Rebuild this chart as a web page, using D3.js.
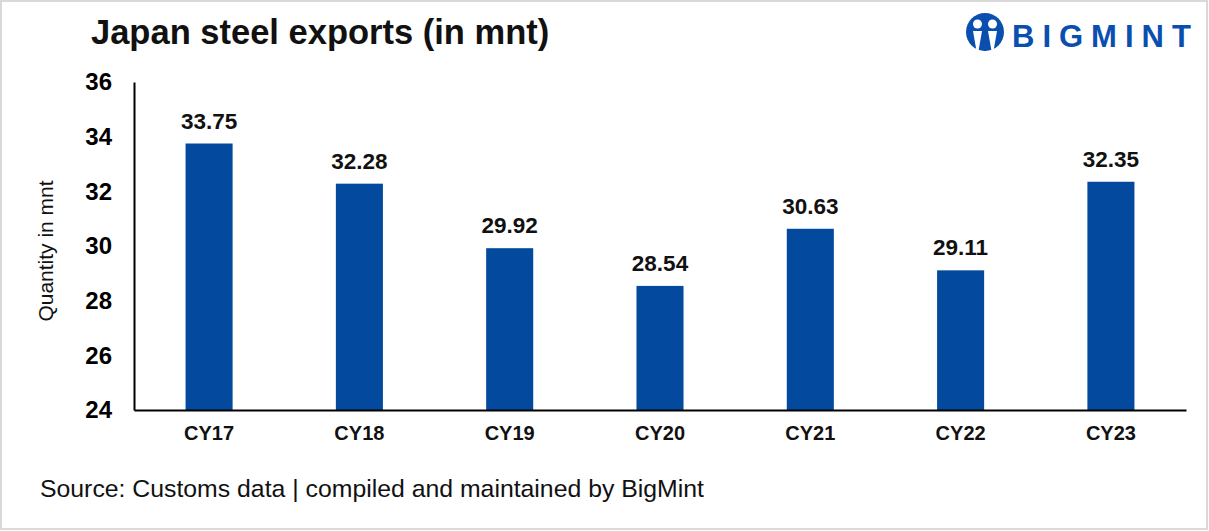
<!DOCTYPE html>
<html>
<head>
<meta charset="utf-8">
<script src="https://cdn.jsdelivr.net/npm/d3@7"></script>
<style>
  body { margin: 0; background: #fff; }
  text { font-family: "Liberation Sans", Arial, sans-serif; }
</style>
</head>
<body>
<svg id="chart"></svg>
<script>
// Chart data
const years = ['CY17', 'CY18', 'CY19', 'CY20', 'CY21', 'CY22', 'CY23'];
const exports = [33.75, 32.28, 29.92, 28.54, 30.63, 29.11, 32.35];
const yTicks = [24, 26, 28, 30, 32, 34, 36];

const W = 1209, H = 531;
const margin = { top: 82, right: 23, bottom: 121, left: 134 };
const width = W - margin.left - margin.right;
const height = H - margin.top - margin.bottom;

const svg = d3.select('#chart')
    .attr('width', W)
    .attr('height', H);

// outer frame
svg.append('rect')
    .attr('x', 1).attr('y', 1)
    .attr('width', W - 3).attr('height', H - 3)
    .attr('fill', '#fff')
    .attr('stroke', '#d9d9d9')
    .attr('stroke-width', 2);

const g = svg.append('g')
    .attr('transform', 'translate(' + margin.left + ',' + margin.top + ')');

const x = d3.scaleBand()
    .domain(years)
    .range([0, width])
    .paddingInner(0.687)
    .paddingOuter(0.343);

const y = d3.scaleLinear()
    .domain([24, 36])
    .range([height, 0]);

// bars
g.selectAll('.bar')
    .data(years)
  .enter().append('rect')
    .attr('class', 'bar')
    .attr('x', d => x(d))
    .attr('width', x.bandwidth())
    .attr('y', (d, i) => y(exports[i]))
    .attr('height', (d, i) => height - y(exports[i]))
    .attr('fill', '#034a9f');

// value labels
g.selectAll('.val')
    .data(years)
  .enter().append('text')
    .attr('class', 'val')
    .attr('x', d => x(d) + x.bandwidth() / 2)
    .attr('y', (d, i) => y(exports[i]) - 15)
    .attr('text-anchor', 'middle')
    .style('font-size', '22.5px')
    .style('font-weight', 'bold')
    .attr('fill', '#111')
    .text((d, i) => exports[i].toFixed(2));

// y axis
const yAxis = g.append('g')
    .call(d3.axisLeft(y).tickValues(yTicks).tickSize(0).tickPadding(22));
yAxis.select('.domain').attr('stroke', '#000').attr('stroke-width', 2);
yAxis.selectAll('text')
    .style('font-size', '24px')
    .style('font-weight', 'bold')
    .attr('fill', '#000');

// x axis
const xAxis = g.append('g')
    .attr('transform', 'translate(0,' + height + ')')
    .call(d3.axisBottom(x).tickSize(0).tickPadding(16));
xAxis.select('.domain').attr('stroke', '#000').attr('stroke-width', 2);
xAxis.selectAll('text')
    .style('font-size', '20px')
    .style('font-weight', 'bold')
    .attr('fill', '#111');

// y axis title
svg.append('text')
    .attr('transform', 'translate(53,251) rotate(-90)')
    .attr('text-anchor', 'middle')
    .style('font-size', '21px')
    .attr('fill', '#111')
    .text('Quantity in mnt');

// title
svg.append('text')
    .attr('x', 91)
    .attr('y', 44)
    .style('font-size', '34.5px')
    .style('font-weight', 'bold')
    .attr('fill', '#111')
    .text('Japan steel exports (in mnt)');

// source
svg.append('text')
    .attr('x', 40)
    .attr('y', 497)
    .style('font-size', '24.8px')
    .attr('fill', '#111')
    .text('Source: Customs data | compiled and maintained by BigMint');

// logo
const logo = svg.append('g').attr('transform', 'translate(985,32)');
logo.append('circle').attr('r', 19).attr('fill', '#0a4fb0');
[-7.5, 7.5].forEach(dx => {
    logo.append('circle').attr('cx', dx).attr('cy', -8).attr('r', 4.5).attr('fill', '#fff');
    logo.append('path')
        .attr('d', 'M' + (dx - 4.5) + ',-1 L' + (dx + 4.5) + ',-1 L' + (dx + 1) + ',19 L' + (dx - 1) + ',19 Z')
        .attr('fill', '#fff');
});
logo.append('path').attr('d', 'M-2,6 L2,6 L1,19 L-1,19 Z').attr('fill', '#0a4fb0');
svg.append('text')
    .attr('x', 1012)
    .attr('y', 47)
    .style('font-size', '31px')
    .style('font-weight', 'bold')
    .style('letter-spacing', '8px')
    .attr('fill', '#0a4fb0')
    .text('BIGMINT');
</script>
</body>
</html>
